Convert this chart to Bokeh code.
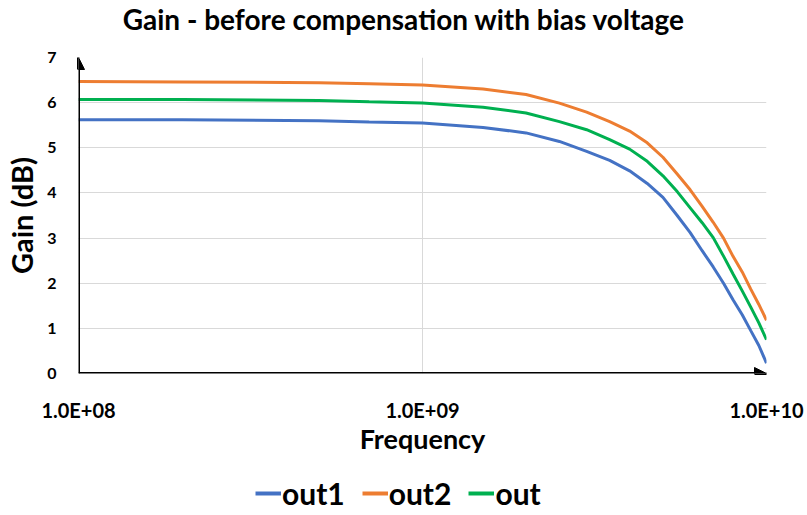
from bokeh.plotting import figure
from bokeh.layouts import column
from bokeh.models import (FixedTicker, CustomJSTickFormatter, Legend, LegendItem,
                          Arrow, NormalHead, Range1d, Label)
from bokeh.embed import file_html
from bokeh.resources import INLINE

# ---- data ----
freq = [1e8, 2e8, 5e8, 7e8, 1e9, 1.5e9, 2e9, 2.5e9, 3e9, 3.5e9, 4e9, 4.5e9,
        5e9, 5.5e9, 6e9, 6.5e9, 7e9, 7.5e9, 8e9, 8.5e9, 9e9, 9.5e9, 1e10]
out1 = [5.62, 5.62, 5.60, 5.57, 5.55, 5.45, 5.33, 5.14, 4.92, 4.72, 4.49, 4.21,
        3.90, 3.50, 3.12, 2.72, 2.36, 2.00, 1.63, 1.30, 0.95, 0.62, 0.23]
out2 = [6.47, 6.46, 6.44, 6.42, 6.39, 6.30, 6.18, 5.99, 5.79, 5.58, 5.37, 5.11,
        4.79, 4.42, 4.07, 3.70, 3.35, 3.00, 2.59, 2.25, 1.87, 1.53, 1.18]
out = [6.07, 6.07, 6.05, 6.02, 5.99, 5.90, 5.77, 5.58, 5.40, 5.18, 4.97, 4.70,
       4.38, 4.03, 3.67, 3.34, 3.01, 2.60, 2.20, 1.83, 1.47, 1.12, 0.75]
x_ticks = [1e8, 1e9, 1e10]
x_tick_labels = ["1.0E+08", "1.0E+09", "1.0E+10"]
y_ticks = [0, 1, 2, 3, 4, 5, 6, 7]
series_names = ["out1", "out2", "out"]
title_text = "Gain - before compensation with bias voltage"

FONT = "Lato"
GRID = "#d9d9d9"
colors = ["#4472C4", "#ED7D31", "#00B050"]
BL, BR = 78, 41


def strip(height):
    f = figure(width=807, height=height, x_range=Range1d(0, 1), y_range=Range1d(0, 1),
               output_backend="svg", toolbar_location=None,
               x_axis_location=None, y_axis_location=None,
               min_border_left=BL, min_border_right=BR, min_border_top=0, min_border_bottom=0)
    f.outline_line_color = None
    f.xgrid.visible = False
    f.ygrid.visible = False
    f.background_fill_color = "white"
    f.border_fill_color = "white"
    return f


# ---- title strip ----
tf = strip(40)
tf.add_layout(Label(x=403.5 - BL, y=22, x_units="screen", y_units="screen",
                    text=title_text, text_align="center", text_baseline="middle",
                    text_font=FONT, text_font_size="28px", text_font_style="bold",
                    text_color="#000000"))

# ---- main chart ----
p = figure(width=807, height=430, x_axis_type="log",
           x_range=Range1d(1e8, 1e10), y_range=Range1d(0, 7),
           output_backend="svg", toolbar_location=None,
           min_border_left=BL, min_border_right=BR,
           min_border_top=17, min_border_bottom=97)
p.outline_line_color = None
p.background_fill_color = "white"
p.border_fill_color = "white"

p.xaxis.ticker = FixedTicker(ticks=x_ticks)
p.xaxis.formatter = CustomJSTickFormatter(args=dict(tick_vals=x_ticks, tick_labels=x_tick_labels), code="""
    let best = 0, bd = Infinity;
    for (let i = 0; i < tick_vals.length; i++) {
        const d = Math.abs(Math.log10(tick_vals[i]) - Math.log10(tick));
        if (d < bd) { bd = d; best = i; }
    }
    return tick_labels[best];
""")
p.yaxis.ticker = FixedTicker(ticks=y_ticks)
for ax in (p.xaxis, p.yaxis):
    ax.axis_line_color = None
    ax.major_tick_line_color = None
    ax.minor_tick_line_color = None
    ax.major_tick_out = 0
    ax.major_tick_in = 0
    ax.minor_tick_out = 0
    ax.major_label_text_font = FONT
    ax.major_label_text_font_style = "bold"
    ax.major_label_text_color = "#000000"
    ax.axis_label_text_font = FONT
    ax.axis_label_text_font_style = "bold"
    ax.axis_label_text_color = "#000000"

p.xaxis.axis_label = "Frequency"
p.xaxis.major_label_text_font_size = "20px"
p.xaxis.axis_label_text_font_size = "27px"
p.xaxis.major_label_standoff = 24
p.xaxis.axis_label_standoff = -3

p.yaxis.axis_label = "Gain (dB)"
p.yaxis.major_label_text_font_size = "16px"
p.yaxis.axis_label_text_font_size = "29px"
p.yaxis.major_label_standoff = 22
p.yaxis.axis_label_standoff = 5

p.xgrid.ticker = FixedTicker(ticks=x_ticks)
p.ygrid.ticker = FixedTicker(ticks=y_ticks)
p.xgrid.grid_line_color = GRID
p.ygrid.grid_line_color = GRID
p.xgrid.grid_line_width = 1
p.ygrid.grid_line_width = 1

for ys, c in zip([out1, out2, out], colors):
    p.line(freq, ys, line_color=c, line_width=3)

p.add_layout(Arrow(x_start=x_ticks[0], y_start=y_ticks[0], x_end=x_ticks[-1], y_end=y_ticks[0],
                   line_color="black", line_width=3,
                   end=NormalHead(size=12, fill_color="black", line_color="black")))
p.add_layout(Arrow(x_start=x_ticks[0], y_start=y_ticks[0], x_end=x_ticks[0], y_end=y_ticks[-1],
                   line_color="black", line_width=3,
                   end=NormalHead(size=12, fill_color="black", line_color="black")))

# ---- legend strip ----
lf = strip(45)
nan = float("nan")
keys = [lf.line([nan], [nan], line_color=c, line_width=4) for c in colors]
legend = Legend(items=[LegendItem(label=n, renderers=[r]) for n, r in zip(series_names, keys)],
                orientation="horizontal", location=(177, 4))
legend.label_text_font = FONT
legend.label_text_font_style = "bold"
legend.label_text_font_size = "30px"
legend.label_text_color = "#000000"
legend.glyph_width = 26
legend.glyph_height = 30
legend.label_standoff = 1
legend.spacing = 17
legend.padding = 0
legend.margin = 0
legend.border_line_color = None
legend.background_fill_alpha = 0
lf.add_layout(legend, "center")

layout = column(tf, p, lf, spacing=0)
open("out.html", "w").write(file_html(layout, INLINE))
